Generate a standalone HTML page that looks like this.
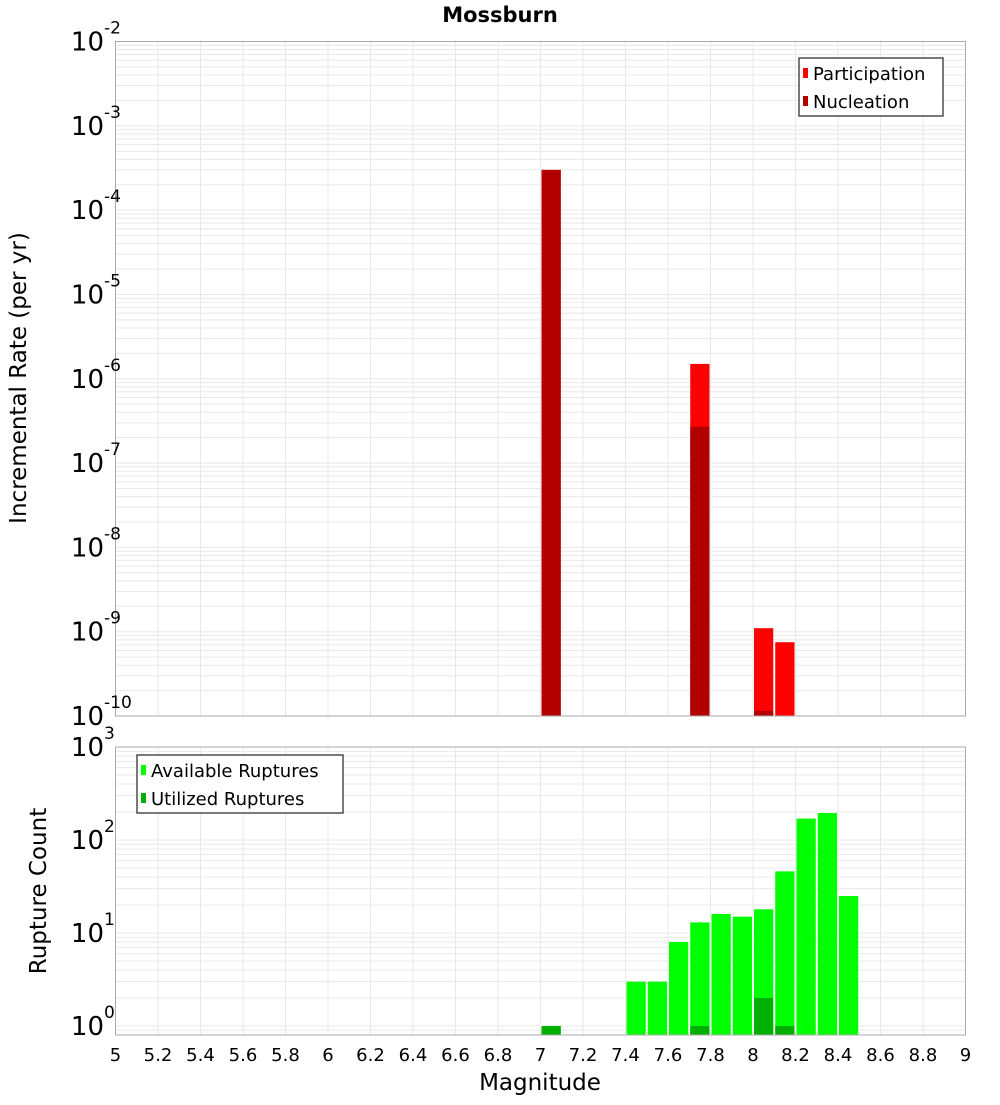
<!DOCTYPE html>
<html><head><meta charset="utf-8"><style>
body{margin:0;background:#fff;}
svg text{font-family:"DejaVu Sans","Liberation Sans",sans-serif;}
</style></head><body>
<svg id="chart" width="1000" height="1100" xmlns="http://www.w3.org/2000/svg">
<text x="500" y="22" text-anchor="middle" font-size="21" font-weight="bold">Mossburn</text>
<text transform="translate(26,378) rotate(-90)" text-anchor="middle" font-size="23">Incremental Rate (per yr)</text>
<text transform="translate(46,891) rotate(-90)" text-anchor="middle" font-size="23">Rupture Count</text>
<text x="540" y="1090" text-anchor="middle" font-size="23">Magnitude</text>
<g id="topg"></g><g id="botg"></g><g id="xt"></g>
</svg>
<script>
const binStarts = [7.0, 7.7, 8.0, 8.1];
const participation = [3.0e-4, 1.5e-6, 1.1e-9, 7.5e-10];
const nucleation = [3.0e-4, 2.7e-7, 1.15e-10, 1.0e-10];
const countBins = [7.0, 7.4, 7.5, 7.6, 7.7, 7.8, 7.9, 8.0, 8.1, 8.2, 8.3, 8.4];
const available = [1, 3, 3, 8, 13, 16, 15, 18, 46, 170, 195, 25];
const utilized = [1, 0, 0, 0, 1, 0, 0, 2, 1, 0, 0, 0];
const xTicks = ["5","5.2","5.4","5.6","5.8","6","6.2","6.4","6.6","6.8","7","7.2","7.4","7.6","7.8","8","8.2","8.4","8.6","8.8","9"];
const topExps = [-2,-3,-4,-5,-6,-7,-8,-9,-10];
const botExps = [3,2,1,0];

const NS="http://www.w3.org/2000/svg";
const L=115.5,R=965.5;
const xs=m=>L+(m-5)/4*(R-L);
const T1=41.5,B1=716;
const yTop=v=>B1-(Math.log10(v)+10)/8*(B1-T1);
const T2=747,B2=1035;
const yBot=v=>1026-Math.log10(v)*93;
function mk(p,tag,a){const e=document.createElementNS(NS,tag);for(const k in a)e.setAttribute(k,a[k]);p.appendChild(e);return e;}

function grid(g,yf,t,b,lo,hi){
  for(let d=lo;d<hi;d++)for(let k=1;k<10;k++){const y=yf(k*Math.pow(10,d));if(y<t||y>b)continue;
    const l=mk(g,'line',{x1:L,x2:R,y1:y,y2:y,stroke:'#e8e8e8','stroke-width':1});
    
    }
  for(let i=0;i<xTicks.length;i++){const xx=xs(+xTicks[i]);
    const l=mk(g,'line',{x1:xx,x2:xx,y1:t,y2:b,stroke:'#e8e8e8','stroke-width':1});
    
    }
}
function ylab(g,y,e,name){
  const t=mk(g,'text',{x:104,y:y+9,'text-anchor':'end','font-size':26});
  
  
  t.textContent='10';
  const s=mk(g,'text',{x:104,y:y-8,'font-size':17});
  
  
  s.textContent=String(e);
}
function bar(g,m,v,yf,base,fill,name){
  const y=yf(v);
  const r=mk(g,'rect',{x:xs(m)+1,y:y,width:xs(m+0.1)-xs(m)-2,height:base-y,fill:fill});
  
  
}
function legend(g,lx,ly,w,items,name){
  const gg=mk(g,'g',{});
  
  
  mk(gg,'rect',{x:lx,y:ly,width:w,height:58,fill:'#fff',stroke:'#333','stroke-width':1.3});
  items.forEach((it,i)=>{mk(gg,'rect',{x:lx+4,y:ly+10+i*28,width:5,height:10,fill:it[1]});
    const t=mk(gg,'text',{x:lx+14,y:ly+22+i*28,'font-size':18});
    
    
    t.textContent=it[0];});
}
const topG=document.getElementById('topg');
grid(topG,yTop,T1,B1,-10,-2);
for(let i=0;i<binStarts.length;i++)bar(topG,binStarts[i],participation[i],yTop,B1,'#ff0000','participation-bar');
for(let i=0;i<binStarts.length;i++)bar(topG,binStarts[i],nucleation[i],yTop,B1,'#b20000','nucleation-bar');
mk(topG,'rect',{x:L,y:T1,width:R-L,height:B1-T1,fill:'none',stroke:'#aaa','stroke-width':1});
topExps.forEach(e=>ylab(topG,yTop(Math.pow(10,e)),e,'top-y-tick-label'));
legend(topG,799,58,144,[['Participation','#ff0000'],['Nucleation','#b20000']],'top-legend');

const botG=document.getElementById('botg');
grid(botG,yBot,T2,B2,-1,3);
for(let i=0;i<countBins.length;i++)if(available[i]>0)bar(botG,countBins[i],available[i],yBot,B2,'#00ff00','available-bar');
for(let i=0;i<countBins.length;i++)if(utilized[i]>0)bar(botG,countBins[i],utilized[i],yBot,B2,'#00b000','utilized-bar');
mk(botG,'rect',{x:L,y:T2,width:R-L,height:B2-T2,fill:'none',stroke:'#aaa','stroke-width':1});
botExps.forEach(e=>ylab(botG,yBot(Math.pow(10,e)),e,'bottom-y-tick-label'));
legend(botG,137,755,206,[['Available Ruptures','#00ff00'],['Utilized Ruptures','#00b000']],'bottom-legend');

const xt=document.getElementById('xt');
xTicks.forEach(s=>{const t=mk(xt,'text',{x:xs(+s),y:1061,'text-anchor':'middle','font-size':18});
  
  
  t.textContent=s;});
</script>
</body></html>
